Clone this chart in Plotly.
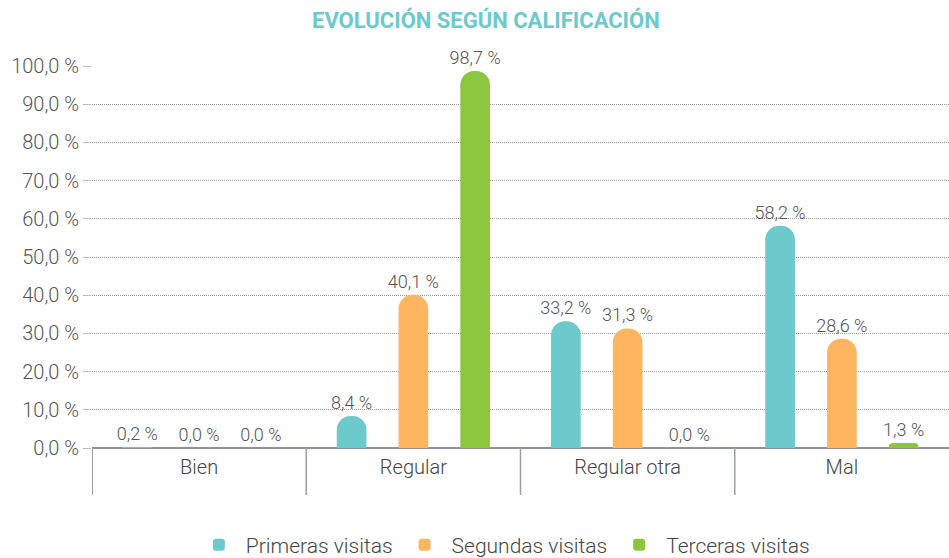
import plotly.graph_objects as go

categories = ["Bien", "Regular", "Regular otra", "Mal"]
primeras = [0.2, 8.4, 33.2, 58.2]
segundas = [0.0, 40.1, 31.3, 28.6]
terceras = [0.0, 98.7, 0.0, 1.3]
series_names = ["Primeras visitas", "Segundas visitas", "Terceras visitas"]
colors = ["#6CCACC", "#FDB55F", "#8CC63F"]
y_ticks = [0, 10, 20, 30, 40, 50, 60, 70, 80, 90, 100]
y_ticktext = [f"{v:.1f}".replace(".", ",") + " %" for v in y_ticks]

FONT = "Roboto"
fig = go.Figure()
for name, vals, col in zip(series_names, [primeras, segundas, terceras], colors):
    fig.add_trace(go.Bar(
        x=categories, y=vals, name=name,
        marker=dict(color=col, cornerradius="50%", line=dict(width=0)),
        text=[f"{v:.1f}".replace(".", ",") + " %" for v in vals],
        textposition="outside", cliponaxis=False, constraintext="none",
        textfont=dict(family=FONT, size=18, color="#555555", weight=300),
    ))

# category separators extending below the axis
for b in [-0.5, 0.5, 1.5, 2.5]:
    fig.add_shape(type="line", xref="x", yref="paper", x0=b, x1=b, y0=0, y1=-0.123,
                  line=dict(color="#9A9FA3", width=1.5 if b > -0.5 else 2))

fig.update_layout(
    width=949, height=558,
    margin=dict(l=92, r=0, t=66, b=110, autoexpand=False),
    paper_bgcolor="white", plot_bgcolor="white",
    barmode="group", bargap=0.135, bargroupgap=0.52,
    title=dict(text="<b>EVOLUCIÓN SEGÚN CALIFICACIÓN</b>", x=0.512, xanchor="center",
               y=0.963, yanchor="middle",
               font=dict(family=FONT, size=22, color="#6CCACC")),
    font=dict(family=FONT, color="#444444"),
    showlegend=True,
    legend=dict(orientation="h", x=0.48, xanchor="center", y=-0.254, yanchor="middle",
                font=dict(family=FONT, size=21, color="#444444", weight=300), itemwidth=44),
    xaxis=dict(showgrid=False, showline=False, ticks="", automargin=False,
               ticklabelstandoff=5,
               tickfont=dict(family=FONT, size=20, color="#444444", weight=300),
               range=[-0.5, 3.5]),
    yaxis=dict(range=[0, 100], tickvals=y_ticks, ticktext=y_ticktext, automargin=False,
               showgrid=True, gridcolor="#999999", griddash="1px,1px", gridwidth=1,
               ticks="outside", ticklen=8, tickcolor="#BBBBBB",
               zeroline=True, zerolinecolor="#8E9498", zerolinewidth=1.5,
               showline=False,
               tickfont=dict(family=FONT, size=20, color="#555555", weight=300)),
)

fig.write_html("out.html", config={"displayModeBar": False},
               post_script="document.body.style.margin='0';")
